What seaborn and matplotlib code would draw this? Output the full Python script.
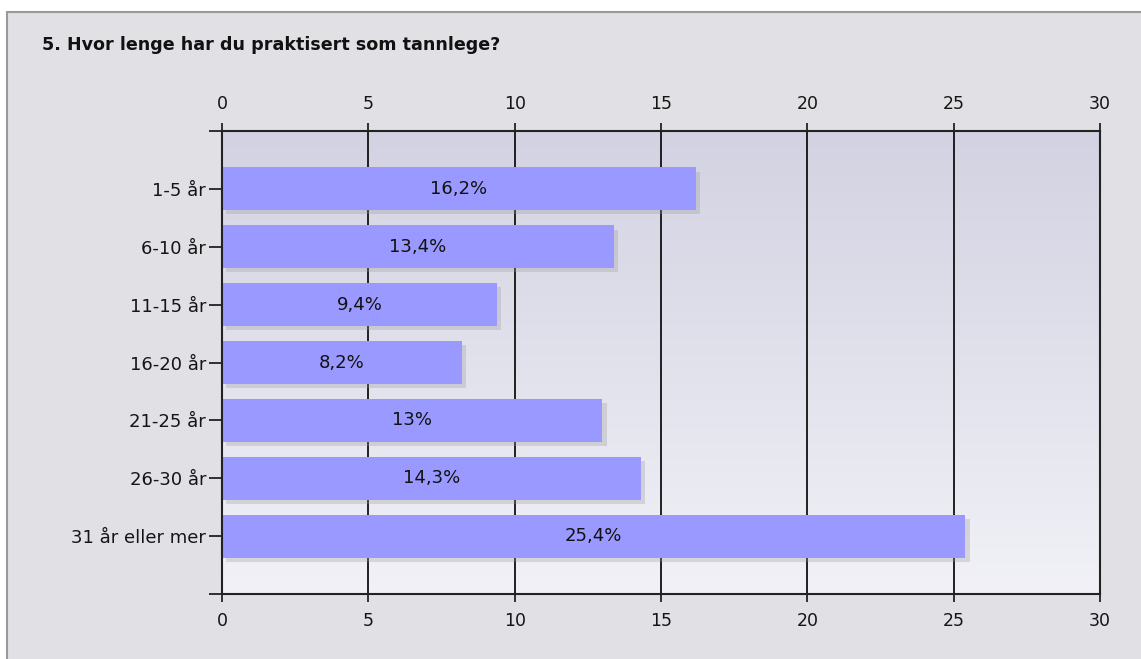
import numpy as np
import matplotlib
matplotlib.use("Agg")
import matplotlib.pyplot as plt
import matplotlib.patheffects as pe
from matplotlib.patches import Rectangle
import seaborn as sns

categories = ["1-5 år", "6-10 år", "11-15 år", "16-20 år", "21-25 år", "26-30 år", "31 år eller mer"]
values = [16.2, 13.4, 9.4, 8.2, 13, 14.3, 25.4]
value_labels = ["16,2%", "13,4%", "9,4%", "8,2%", "13%", "14,3%", "25,4%"]
x_ticks = [0, 5, 10, 15, 20, 25, 30]
title = "5. Hvor lenge har du praktisert som tannlege?"

sns.set_style("white")
plt.rcParams['font.family'] = ['DejaVu Sans']

fig = plt.figure(figsize=(11.41, 6.59), dpi=100)
fig.patch.set_facecolor("white")

# grey panel behind the chart
panel = Rectangle((7 / 1141, -0.05), 1.1, 1 - 12 / 659 + 0.05, transform=fig.transFigure,
                  facecolor="#e1e0e5", edgecolor="#9a9a98", linewidth=1.5, zorder=-10)
fig.patches.append(panel)

ax = fig.add_axes([222 / 1141, 1 - 594 / 659, 878 / 1141, 463 / 659])

# gradient plot background
grad = np.linspace(0, 1, 256).reshape(-1, 1)
cmap = matplotlib.colors.LinearSegmentedColormap.from_list("bg", ["#d2d2e2", "#f1f1f7"])
ax.imshow(grad, cmap=cmap, aspect="auto", extent=[0, 30, 7, -1], zorder=0)

sns.barplot(x=values, y=categories, color="#9999ff", saturation=1, width=0.74,
            orient="h", ax=ax, zorder=3)
for p in ax.patches:
    p.set_path_effects([pe.SimplePatchShadow(offset=(3, -3), shadow_rgbFace="#999999", alpha=0.3),
                        pe.Normal()])
    p.set_edgecolor("none")

ax.bar_label(ax.containers[0], labels=value_labels, label_type="center", fontsize=13, color="#111111", zorder=5)

ax.set_xlim(0, 30)
ax.set_ylim(7, -1)
ax.set_xticks(x_ticks)
ax.set_xticklabels([str(t) for t in x_ticks])
ax.set_yticks(range(len(categories)))
ax.set_yticks([-1, 7], minor=True)
ax.set_yticklabels(categories)
ax.set_xlabel("")
ax.set_ylabel("")
ax.set_facecolor("none")

ax.grid(False)
for t in x_ticks[1:-1]:
    ax.axvline(t, color="#111111", linewidth=1.3, zorder=1)

for s in ax.spines.values():
    s.set_visible(True)
    s.set_color("#222222")
    s.set_linewidth(1.5)
    s.set_zorder(6)

ax.tick_params(axis="x", which="major", top=True, bottom=True, labeltop=True, labelbottom=True,
               direction="out", length=6, width=1.3, color="#222222", labelsize=12.5, pad=7,
               labelcolor="#151515")
ax.tick_params(axis="y", which="both", left=True, direction="out", length=9.5, width=1.3,
               color="#222222", labelsize=13, pad=2, labelcolor="#151515")

fig.text(42 / 1141, 1 - 45 / 659, title, fontsize=12.6, fontweight="bold", color="#111111", va="center", ha="left")

fig.savefig("out.png", dpi=100)
